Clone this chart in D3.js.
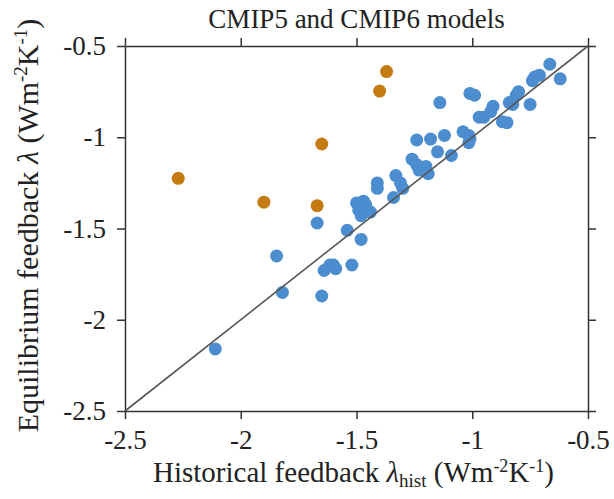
<!DOCTYPE html>
<html>
<head>
<meta charset="utf-8">
<script src="https://cdn.jsdelivr.net/npm/d3@7/dist/d3.min.js"></script>
<style>
    html, body { margin: 0; padding: 0; background: #fff; }
    svg text { font-family: "Liberation Serif", "Times New Roman", serif; fill: #222; }
</style>
</head>
<body>
<div id="chart"></div>
<script>
'use strict';

// historical feedback (x) and equilibrium feedback (y), Wm-2K-1
var blueHist = [-0.665, -0.62, -0.73, -0.71, -0.74, -0.75, -0.80, -0.81, -0.84, -0.825,
    -1.01, -0.99, -1.14, -0.91, -0.92, -0.97, -0.95, -0.87, -0.85, -1.04,
    -1.015, -1.01, -1.015, -1.12, -1.18, -1.24, -1.15, -1.09, -1.26, -1.24,
    -1.20, -1.23, -1.19, -1.33, -1.31, -1.30, -1.34, -1.41, -1.41, -1.50,
    -1.47, -1.46, -1.49, -1.44, -1.48, -1.54, -1.48, -1.67, -1.845, -1.60,
    -1.52, -1.64, -1.615, -1.59, -1.82, -1.65, -2.11];
var blueEq = [-0.60, -0.68, -0.67, -0.66, -0.69, -0.82, -0.75, -0.77, -0.81, -0.82,
    -0.76, -0.77, -0.81, -0.83, -0.86, -0.89, -0.89, -0.915, -0.92, -0.97,
    -0.99, -1.01, -1.03, -0.99, -1.01, -1.015, -1.08, -1.10, -1.12, -1.15,
    -1.16, -1.18, -1.20, -1.21, -1.25, -1.28, -1.33, -1.25, -1.28, -1.36,
    -1.35, -1.37, -1.40, -1.41, -1.43, -1.51, -1.56, -1.47, -1.65, -1.70,
    -1.70, -1.73, -1.70, -1.72, -1.85, -1.87, -2.16];
var orangeHist = [-2.27, -1.90, -1.65, -1.67, -1.37, -1.40];
var orangeEq = [-1.225, -1.356, -1.037, -1.375, -0.64, -0.747];
var tickValues = [-2.5, -2, -1.5, -1, -0.5];

var width = 614, height = 499;
var margin = { top: 46, right: 26, bottom: 88, left: 125 };
var plotW = width - margin.left - margin.right;
var plotH = height - margin.top - margin.bottom;

var svg = d3.select("#chart").append("svg")
    .attr("width", width)
    .attr("height", height);

var g = svg.append("g")
    .attr("transform", "translate(" + margin.left + "," + margin.top + ")");

var x = d3.scaleLinear().domain([-2.5, -0.5]).range([0, plotW]);
var y = d3.scaleLinear().domain([-2.5, -0.5]).range([plotH, 0]);

function styleAxis(sel) {
    sel.selectAll(".domain").attr("stroke", "#333").attr("stroke-width", 1.5);
    sel.selectAll(".tick line").attr("stroke", "#333").attr("stroke-width", 1.5);
    sel.selectAll(".tick text")
        .attr("font-family", "Liberation Serif, serif")
        .attr("font-size", 27)
        .attr("fill", "#222");
}

var fmt = function (d) { return d3.format("")(d).replace("−", "-"); };

g.append("g")
    .attr("transform", "translate(0," + plotH + ")")
    .call(d3.axisBottom(x).tickValues(tickValues).tickSize(8).tickSizeOuter(0).tickPadding(11).tickFormat(fmt))
    .call(styleAxis);
g.append("g")
    .call(d3.axisTop(x).tickValues(tickValues).tickSize(8).tickSizeOuter(0).tickFormat(""))
    .call(styleAxis);
g.append("g")
    .call(d3.axisLeft(y).tickValues(tickValues).tickSize(8).tickSizeOuter(0).tickPadding(11).tickFormat(fmt))
    .call(styleAxis);
g.append("g")
    .attr("transform", "translate(" + plotW + ",0)")
    .call(d3.axisRight(y).tickValues(tickValues).tickSize(8).tickSizeOuter(0).tickFormat(""))
    .call(styleAxis);

// models
g.selectAll(".blue").data(d3.range(blueHist.length)).enter()
    .append("circle").attr("class", "blue")
    .attr("cx", function (i) { return x(blueHist[i]); })
    .attr("cy", function (i) { return y(blueEq[i]); })
    .attr("r", 6.5)
    .attr("fill", "#4b8dce");
g.selectAll(".orange").data(d3.range(orangeHist.length)).enter()
    .append("circle").attr("class", "orange")
    .attr("cx", function (i) { return x(orangeHist[i]); })
    .attr("cy", function (i) { return y(orangeEq[i]); })
    .attr("r", 6.5)
    .attr("fill", "#c47c12");

// 1:1 line
g.append("line")
    .attr("x1", x(-2.5)).attr("y1", y(-2.5))
    .attr("x2", x(-0.5)).attr("y2", y(-0.5))
    .attr("stroke", "#555").attr("stroke-width", 1.6);

// title
svg.append("text")
    .attr("x", margin.left + plotW / 2)
    .attr("y", 28)
    .attr("text-anchor", "middle")
    .attr("font-size", 27)
    .text("CMIP5 and CMIP6 models");

// x label
var xl = svg.append("text")
    .attr("x", margin.left + plotW / 2 - 3)
    .attr("y", 482)
    .attr("text-anchor", "middle")
    .attr("font-size", 29);
xl.append("tspan").text("Historical feedback ");
xl.append("tspan").attr("font-style", "italic").text("λ");
xl.append("tspan").attr("font-size", 19).attr("dy", 5).text("hist");
xl.append("tspan").attr("dy", -5).text(" (Wm");
xl.append("tspan").attr("font-size", 18).attr("dy", -10).text("-2");
xl.append("tspan").attr("dy", 10).text("K");
xl.append("tspan").attr("font-size", 18).attr("dy", -10).text("-1");
xl.append("tspan").attr("dy", 10).text(")");

// y label
var yl = svg.append("text")
    .attr("transform", "translate(38," + (margin.top + plotH / 2 - 3) + ") rotate(-90)")
    .attr("text-anchor", "middle")
    .attr("font-size", 30);
yl.append("tspan").text("Equilibrium feedback ");
yl.append("tspan").attr("font-style", "italic").text("λ");
yl.append("tspan").text(" (Wm");
yl.append("tspan").attr("font-size", 19).attr("dy", -11).text("-2");
yl.append("tspan").attr("dy", 11).text("K");
yl.append("tspan").attr("font-size", 19).attr("dy", -11).text("-1");
yl.append("tspan").attr("dy", 11).text(")");
</script>
</body>
</html>
